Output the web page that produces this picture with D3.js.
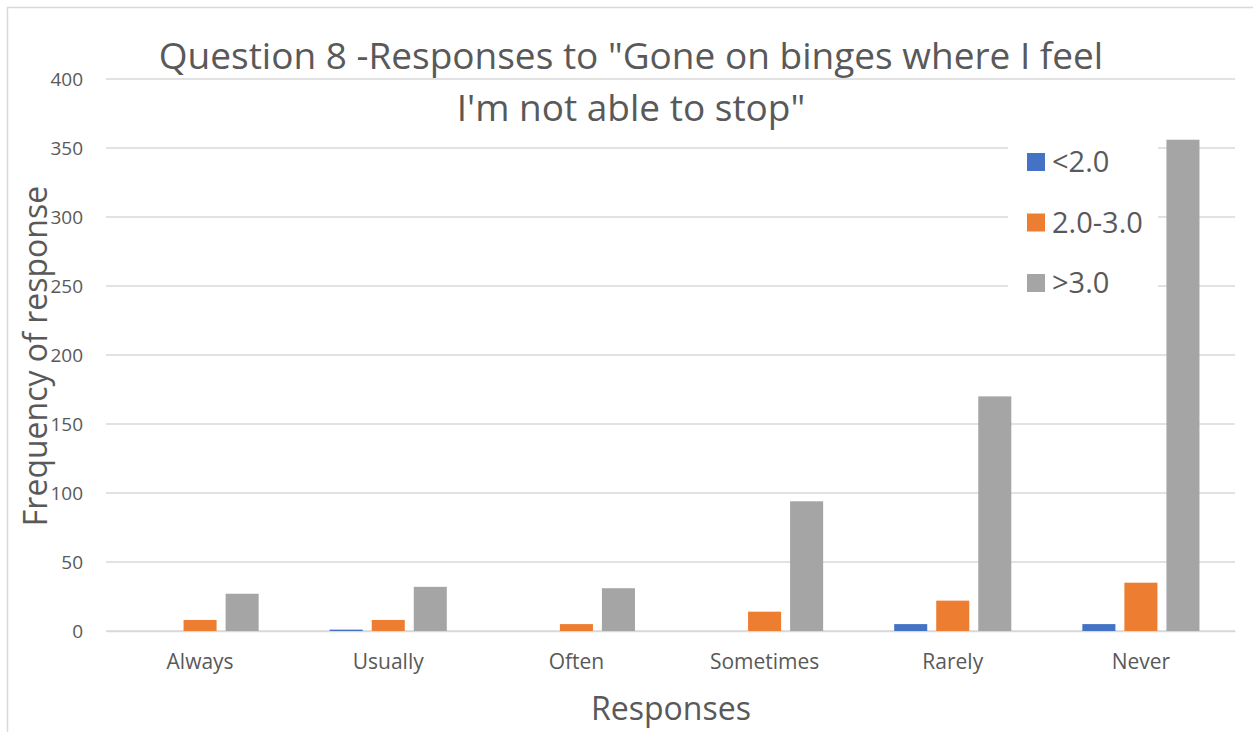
<!DOCTYPE html>
<html>
<head>
<meta charset="utf-8">
<script src="https://cdn.jsdelivr.net/npm/d3@7"></script>
<style>
  body { margin: 0; background: #fff; }
  text { font-family: "Open Sans", "Noto Sans", sans-serif; fill: #595959; }
</style>
</head>
<body>
<div id="chart"></div>
<script>
const categories = ["Always", "Usually", "Often", "Sometimes", "Rarely", "Never"];
const seriesNames = ["<2.0", "2.0-3.0", ">3.0"];
const seriesColors = ["#4472C4", "#ED7D31", "#A5A5A5"];
const lowValues = [0, 1, 0, 0, 5, 5];
const midValues = [8, 8, 5, 14, 22, 35];
const highValues = [27, 32, 31, 94, 170, 356];
const yTicks = [0, 50, 100, 150, 200, 250, 300, 350, 400];

const seriesValues = [lowValues, midValues, highValues];

const width = 1253, height = 732;
const margin = { left: 106, right: 18, top: 79, bottom: 101 };

const svg = d3.select("#chart")
  .append("svg")
  .attr("width", width)
  .attr("height", height);

// outer chart border (only left and top visible in the frame)
svg.append("rect")
  .attr("x", 7.5)
  .attr("y", 7.5)
  .attr("width", 1260)
  .attr("height", 760)
  .attr("fill", "none")
  .attr("stroke", "#D9D9D9")
  .attr("stroke-width", 1.5);

const x0 = d3.scaleBand()
  .domain(categories)
  .range([margin.left, width - margin.right]);

const x1 = d3.scaleBand()
  .domain(seriesNames)
  .range([0, x0.bandwidth()])
  .paddingInner(0.214)
  .paddingOuter(0.845);

const y = d3.scaleLinear()
  .domain([0, 400])
  .range([height - margin.bottom, margin.top]);

// gridlines
svg.append("g")
  .attr("class", "grid")
  .selectAll("line")
  .data(yTicks)
  .enter().append("line")
    .attr("x1", margin.left)
    .attr("x2", width - margin.right)
    .attr("y1", d => y(d))
    .attr("y2", d => y(d))
    .attr("stroke", "#D9D9D9")
    .attr("stroke-width", 1.5);

// y axis
const yAxis = svg.append("g")
  .attr("transform", `translate(${margin.left},0)`)
  .call(d3.axisLeft(y).tickValues(yTicks).tickSize(0).tickPadding(23));
yAxis.select(".domain").remove();
yAxis.selectAll("text")
  .style("font-size", "19px")
  .attr("fill", "#595959");

// x axis
const xAxis = svg.append("g")
  .attr("transform", `translate(0,${y(0)})`)
  .call(d3.axisBottom(x0).tickSize(0).tickPadding(23));
xAxis.select(".domain").attr("stroke", "#D9D9D9").attr("stroke-width", 1.5);
xAxis.selectAll("text")
  .style("font-size", "21px")
  .attr("fill", "#595959");

// bars
const rows = categories.map((c, i) => ({
  category: c,
  values: seriesNames.map((s, j) => ({ series: s, color: seriesColors[j], value: seriesValues[j][i] }))
}));

svg.append("g")
  .selectAll("g")
  .data(rows)
  .enter().append("g")
    .attr("transform", d => `translate(${x0(d.category)},0)`)
  .selectAll("rect")
  .data(d => d.values)
  .enter().append("rect")
    .attr("x", d => x1(d.series))
    .attr("width", x1.bandwidth())
    .attr("y", d => y(d.value))
    .attr("height", d => y(0) - y(d.value))
    .attr("fill", d => d.color);

// legend with white background over the gridlines
const legend = svg.append("g");
legend.append("rect")
  .attr("x", 1008)
  .attr("y", 135)
  .attr("width", 150)
  .attr("height", 175)
  .attr("fill", "#fff");

const item = legend.selectAll("g.item")
  .data(seriesNames)
  .enter().append("g")
    .attr("class", "item")
    .attr("transform", (d, i) => `translate(1027,${162 + i * 60.5})`);

item.append("rect")
  .attr("x", 0)
  .attr("y", -9)
  .attr("width", 18)
  .attr("height", 18)
  .attr("fill", (d, i) => seriesColors[i]);

item.append("text")
  .attr("x", 25)
  .attr("dy", "0.35em")
  .style("font-size", "29px")
  .text(d => d);

// titles
svg.append("text")
  .attr("x", 631)
  .attr("y", 69)
  .attr("text-anchor", "middle")
  .style("font-size", "37px")
  .text('Question 8 -Responses to "Gone on binges where I feel');

svg.append("text")
  .attr("x", 631)
  .attr("y", 121)
  .attr("text-anchor", "middle")
  .style("font-size", "37px")
  .text('I\'m not able to stop"');

svg.append("text")
  .attr("transform", "translate(47,356) rotate(-90)")
  .attr("text-anchor", "middle")
  .style("font-size", "32px")
  .text("Frequency of response");

svg.append("text")
  .attr("x", 671)
  .attr("y", 720)
  .attr("text-anchor", "middle")
  .style("font-size", "32px")
  .text("Responses");
</script>
</body>
</html>
